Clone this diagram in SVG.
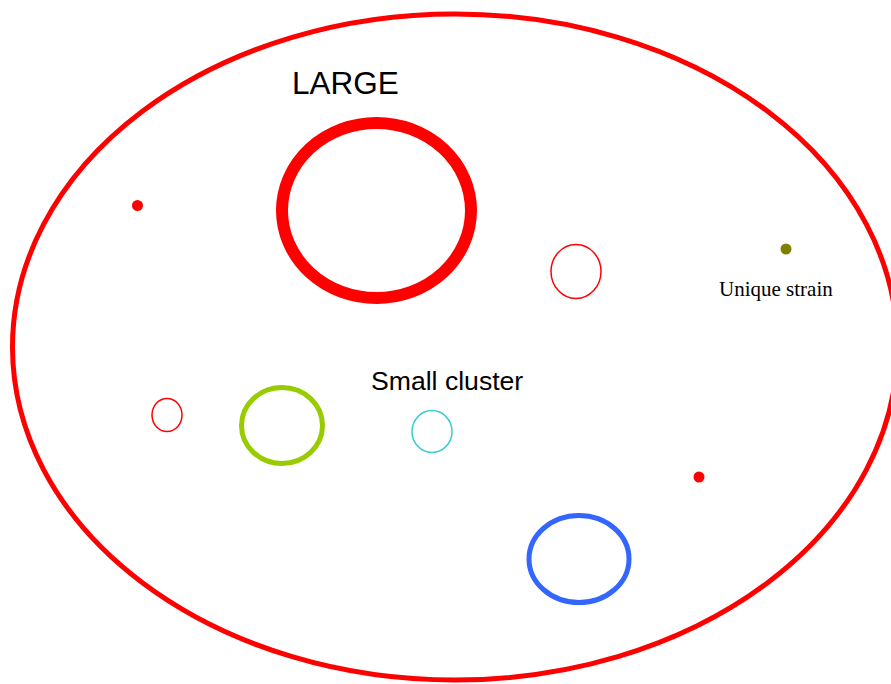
<svg xmlns="http://www.w3.org/2000/svg" width="891" height="684" viewBox="0 0 891 684">
<style>
.sans{font-family:"Liberation Sans",Arial,sans-serif;fill:#000}
.serif{font-family:"Liberation Serif","Times New Roman",serif;fill:#000}
.ring{fill:none}
</style>
<rect width="891" height="684" fill="#fff"/>
<g id="outer"><ellipse cx="455" cy="347" rx="442.5" ry="333" class="ring" stroke="#ff0000" stroke-width="5"/></g>
<g id="large"><ellipse cx="376.5" cy="210.5" rx="94.5" ry="87.5" class="ring" stroke="#ff0000" stroke-width="12"/>
<text x="292" y="94" class="sans" font-size="31.5">LARGE</text></g>
<g id="dot1"><circle cx="137.5" cy="205.5" r="5.5" fill="#ff0000"/></g>
<g id="red-mid"><ellipse cx="576" cy="271.5" rx="25" ry="27" class="ring" stroke="#ff0000" stroke-width="1.5"/></g>
<g id="unique"><circle cx="786" cy="249" r="5.5" fill="#808000"/>
<text x="719" y="296" class="serif" font-size="21">Unique strain</text></g>
<g id="small-cluster-label"><text x="371" y="390" class="sans" font-size="26.6">Small cluster</text></g>
<g id="red-small"><ellipse cx="167" cy="415" rx="15" ry="16.5" class="ring" stroke="#ff0000" stroke-width="1.5"/></g>
<g id="green"><ellipse cx="282" cy="425.5" rx="40.5" ry="38" class="ring" stroke="#99cc00" stroke-width="5"/></g>
<g id="cyan"><ellipse cx="432" cy="431.5" rx="20" ry="21" class="ring" stroke="#33cccc" stroke-width="1.5"/></g>
<g id="dot2"><circle cx="699" cy="477" r="5.5" fill="#ff0000"/></g>
<g id="blue"><ellipse cx="579" cy="559" rx="50" ry="43.5" class="ring" stroke="#3366ff" stroke-width="5"/></g>
<g id="connectors"></g>
</svg>
